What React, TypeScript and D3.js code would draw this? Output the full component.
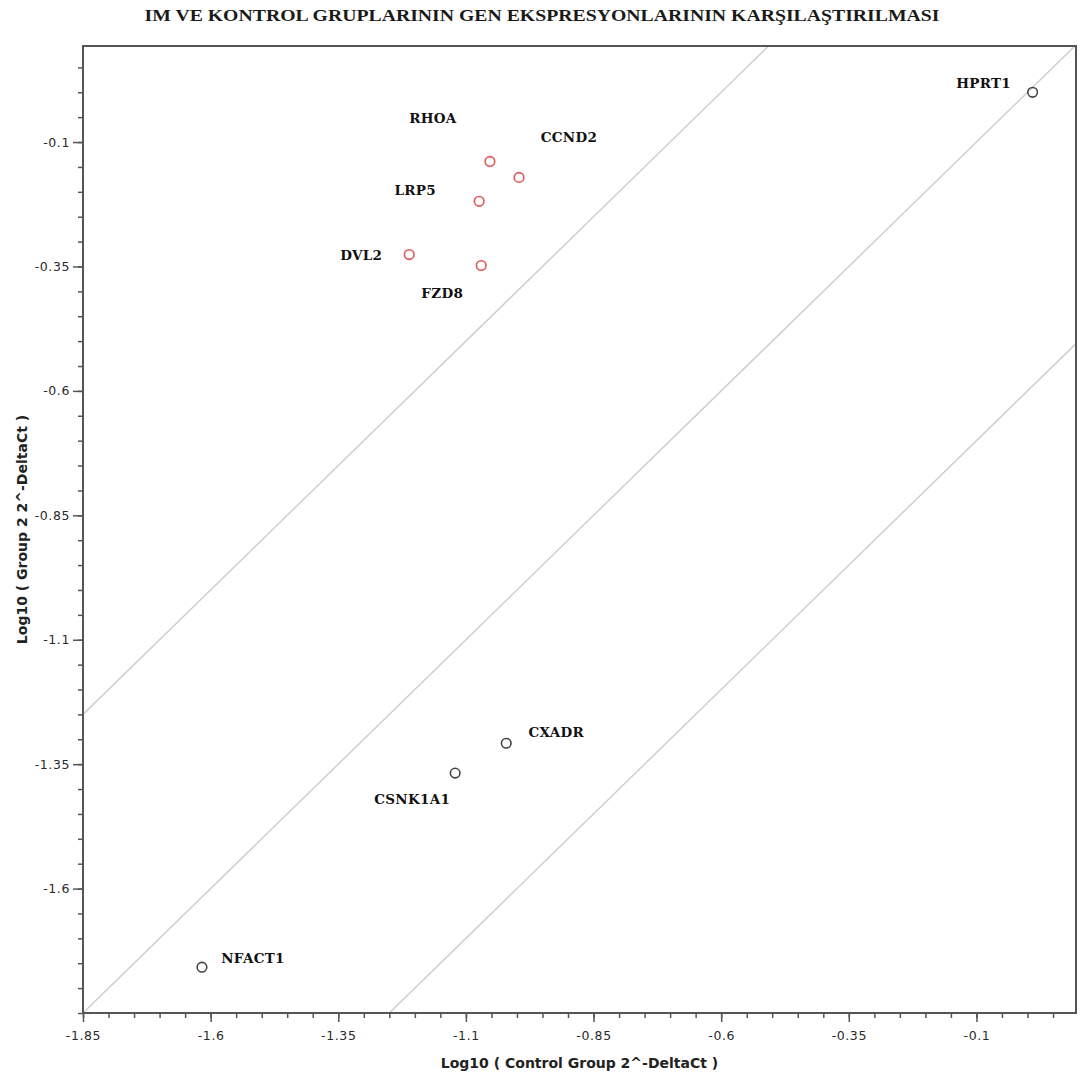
import React, { useEffect, useRef } from "react";
import * as d3 from "d3";

// gene expression, log10 2^-DeltaCt
const genes = ["HPRT1", "RHOA", "CCND2", "LRP5", "DVL2", "FZD8", "CXADR", "CSNK1A1", "NFACT1"];
const controlValues = [0.01, -1.053, -0.996, -1.074, -1.211, -1.07, -1.021, -1.121, -1.617];
const group2Values = [0.0, -0.139, -0.171, -0.219, -0.326, -0.348, -1.308, -1.368, -1.758];
const regulated = [false, true, true, true, true, true, false, false, false];

const xMajorTicks = [-1.85, -1.6, -1.35, -1.1, -0.85, -0.6, -0.35, -0.1];
const yMajorTicks = [-1.6, -1.35, -1.1, -0.85, -0.6, -0.35, -0.1];
const foldLines = [0.6, 0, -0.6];

// label position relative to the point (px)
const labelOffsets: Record<string, [number, number]> = {
  HPRT1: [-49, -9],
  RHOA: [-57, -43],
  CCND2: [50, -40],
  LRP5: [-64, -11],
  DVL2: [-48, 0],
  FZD8: [-39, 28],
  CXADR: [50, -11],
  CSNK1A1: [-43, 26],
  NFACT1: [51, -9],
};

const width = 1081;
const height = 1082;
const plot = { left: 83, right: 1076, top: 46, bottom: 1013 };

function ScatterChart() {
  const svgRef = useRef<SVGSVGElement>(null);

  useEffect(() => {
    const xScale = d3.scaleLinear().domain([-1.85, 0.095]).range([plot.left, plot.right]);
    const yScale = d3.scaleLinear().domain([-1.85, 0.093]).range([plot.bottom, plot.top]);
    const minorTicks = d3.range(-1.85, 0.06, 0.05).map((v) => +v.toFixed(2));

    const svgElement = d3.select(svgRef.current);
    svgElement.selectAll("*").remove();
    const svg = svgElement.append("g");

    svg.append("rect").attr("width", width).attr("height", height).attr("fill", "#fff");

    // title
    svg.append("text")
      .attr("x", 542)
      .attr("y", 21)
      .attr("text-anchor", "middle")
      .attr("font-family", "Liberation Serif")
      .attr("font-weight", "bold")
      .attr("font-size", 17)
      .attr("textLength", 795)
      .attr("lengthAdjust", "spacingAndGlyphs")
      .attr("fill", "#1a1a1a")
      .text("IM VE KONTROL GRUPLARININ GEN EKSPRESYONLARININ KARŞILAŞTIRILMASI");

    svg.append("clipPath").attr("id", "plot-clip")
      .append("rect")
      .attr("x", plot.left).attr("y", plot.top)
      .attr("width", plot.right - plot.left).attr("height", plot.bottom - plot.top);

    // fold-change diagonals
    const line = d3.line<number[]>().x((d) => xScale(d[0])).y((d) => yScale(d[1]));
    svg.append("g").attr("clip-path", "url(#plot-clip)")
      .selectAll("path")
      .data(foldLines)
      .enter()
      .append("path")
      .attr("d", (off) => line([[-3, -3 + off], [1, 1 + off]]))
      .attr("stroke", "#cfcfcf")
      .attr("stroke-width", 1.5)
      .attr("fill", "none");

    // frame
    svg.append("rect")
      .attr("x", plot.left).attr("y", plot.top)
      .attr("width", plot.right - plot.left).attr("height", plot.bottom - plot.top)
      .attr("fill", "none")
      .attr("stroke", "#555")
      .attr("stroke-width", 2);

    const styleAxis = (g: any) => {
      g.select(".domain").remove();
      g.selectAll("line").attr("stroke", "#555").attr("stroke-width", 1.5);
      g.selectAll("text")
        .attr("font-family", "DejaVu Sans")
        .attr("font-size", 12.5)
        .attr("letter-spacing", 0.6)
        .attr("fill", "#2a2a2a");
    };

    const xMinor = d3.axisBottom(xScale).tickValues(minorTicks).tickSize(5).tickFormat(() => "");
    svg.append("g").attr("transform", `translate(0, ${plot.bottom})`).call(xMinor).call(styleAxis);
    const xAxis = d3.axisBottom(xScale).tickValues(xMajorTicks).tickSize(9).tickPadding(9)
      .tickFormat((d) => String(d));
    svg.append("g").attr("transform", `translate(0, ${plot.bottom})`).call(xAxis).call(styleAxis);

    const yMinor = d3.axisLeft(yScale).tickValues(minorTicks).tickSize(5).tickFormat(() => "");
    svg.append("g").attr("transform", `translate(${plot.left}, 0)`).call(yMinor).call(styleAxis);
    const yAxis = d3.axisLeft(yScale).tickValues(yMajorTicks).tickSize(10).tickPadding(3)
      .tickFormat((d) => String(d));
    svg.append("g").attr("transform", `translate(${plot.left}, 0)`).call(yAxis).call(styleAxis);

    // axis titles
    svg.append("text")
      .attr("x", (plot.left + plot.right) / 2)
      .attr("y", 1068)
      .attr("text-anchor", "middle")
      .attr("font-family", "DejaVu Sans")
      .attr("font-weight", "bold")
      .attr("font-size", 14)
      .attr("fill", "#222")
      .text("Log10 ( Control Group 2^-DeltaCt )");

    svg.append("text")
      .attr("transform", `translate(27, ${(plot.top + plot.bottom) / 2}) rotate(-90)`)
      .attr("text-anchor", "middle")
      .attr("font-family", "DejaVu Sans")
      .attr("font-weight", "bold")
      .attr("font-size", 14)
      .attr("fill", "#222")
      .text("Log10 ( Group 2 2^-DeltaCt )");

    const points = genes.map((g, i) => ({
      gene: g,
      x: controlValues[i],
      y: group2Values[i],
      up: regulated[i],
    }));

    svg.selectAll("circle.pt")
      .data(points)
      .enter()
      .append("circle")
      .attr("class", "pt")
      .attr("cx", (d) => xScale(d.x))
      .attr("cy", (d) => yScale(d.y))
      .attr("r", 4.8)
      .attr("fill", "none")
      .attr("stroke", (d) => (d.up ? "#e05555" : "#444"))
      .attr("stroke-width", 1.6);

    svg.selectAll("text.lbl")
      .data(points)
      .enter()
      .append("text")
      .attr("class", "lbl")
      .attr("x", (d) => xScale(d.x) + labelOffsets[d.gene][0])
      .attr("y", (d) => yScale(d.y) + labelOffsets[d.gene][1])
      .attr("text-anchor", "middle")
      .attr("dominant-baseline", "central")
      .attr("font-family", "DejaVu Serif")
      .attr("font-weight", "bold")
      .attr("font-size", 13.5)
      .attr("letter-spacing", 0.3)
      .attr("fill", "#111")
      .text((d) => d.gene);
  }, []);

  return (
    <svg
      ref={svgRef}
      width={width}
      height={height}
      style={{ position: "absolute", left: 0, top: 0, display: "block" }}
    />
  );
}

export default function App() {
  return <ScatterChart />;
}
